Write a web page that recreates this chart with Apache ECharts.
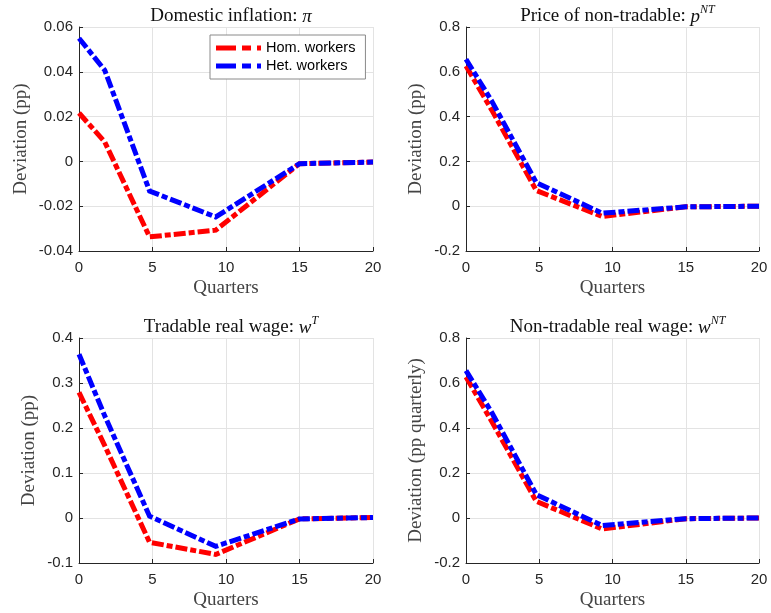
<!DOCTYPE html>
<html>
<head>
<meta charset="utf-8">
<script src="https://cdn.jsdelivr.net/npm/echarts@6/dist/echarts.min.js"></script>
<style>html,body{margin:0;padding:0;background:#fff}#c{width:771px;height:613px}</style>
</head>
<body>
<div id="c"></div>
<script>
// Data
const quarters = [0, 1.75, 4.8, 9.3, 15, 20];
const xTicks = [0, 5, 10, 15, 20];
const seriesNames = ['Hom. workers', 'Het. workers'];

const inflHom = [0.0216, 0.0087, -0.0337, -0.0307, -0.001, -0.0003];
const inflHet = [0.055, 0.0407, -0.0132, -0.0248, -0.001, -0.0003];

const pntHom = [0.626, 0.43, 0.07, -0.046, -0.003, 0];
const pntHet = [0.656, 0.47, 0.105, -0.031, -0.003, 0];

const wtHom = [0.279, 0.161, -0.054, -0.081, -0.002, 0.001];
const wtHet = [0.364, 0.227, 0.004, -0.063, -0.002, 0.001];

const wntHom = [0.627, 0.43, 0.074, -0.049, -0.003, 0];
const wntHet = [0.655, 0.47, 0.104, -0.034, -0.003, 0];

const yRanges = [
  {min: -0.04, max: 0.06, interval: 0.02},
  {min: -0.2, max: 0.8, interval: 0.2},
  {min: -0.1, max: 0.4, interval: 0.1},
  {min: -0.2, max: 0.8, interval: 0.2}
];
const yNames = ['Deviation (pp)', 'Deviation (pp)', 'Deviation (pp)', 'Deviation (pp quarterly)'];
const xName = 'Quarters';
const titles = [
  '{a|Domestic inflation: }{i|π}',
  '{a|Price of non-tradable: }{i|p}{s|NT}',
  '{a|Tradable real wage: }{i|w}{s|T}',
  '{a|Non-tradable real wage: }{i|w}{s|NT}'
];
const panelData = [[inflHom, inflHet], [pntHom, pntHet], [wtHom, wtHet], [wntHom, wntHet]];

const grids = [
  {left: 79, top: 27, width: 294, height: 224},
  {left: 466, top: 27, width: 293, height: 224},
  {left: 79, top: 338, width: 294, height: 225},
  {left: 466, top: 338, width: 293, height: 225}
];

const serif = '"Liberation Serif", "DejaVu Serif", serif';
const sans = '"Liberation Sans", Arial, sans-serif';
const axisCol = '#262626';
const colors = ['#ff0000', '#0000ff'];

const titleRich = {
  a: {fontFamily: serif, fontSize: 19, color: '#111', verticalAlign: 'bottom', lineHeight: 22},
  i: {fontFamily: serif, fontSize: 19, fontStyle: 'italic', color: '#111', verticalAlign: 'bottom', lineHeight: 22},
  s: {fontFamily: serif, fontSize: 12, fontStyle: 'italic', color: '#111', verticalAlign: 'top', lineHeight: 22}
};

const dashIcon = 'path://M0,0H20V5H0Z M26,0H35V5H26Z M41,0H45V5H41Z';

const option = {
  backgroundColor: '#fff',
  animation: false,
  title: grids.map((g, k) => ({
    text: titles[k],
    left: g.left + g.width / 2,
    top: g.top - 28,
    textAlign: 'center',
    textStyle: {rich: titleRich, fontFamily: serif, fontSize: 19, fontWeight: 'normal'}
  })),
  legend: {
    data: seriesNames.map((n, j) => ({name: n, icon: dashIcon, itemStyle: {color: colors[j]}})),
    orient: 'vertical',
    left: 210,
    top: 35,
    padding: [5, 10, 5, 6],
    itemWidth: 45,
    itemHeight: 5,
    itemGap: 2,
    backgroundColor: '#fff',
    borderColor: '#8a8a8a',
    borderWidth: 1,
    borderRadius: 0,
    textStyle: {fontFamily: sans, fontSize: 14.5, color: '#000', lineHeight: 16}
  },
  grid: grids.map(g => Object.assign({containLabel: false}, g)),
  xAxis: grids.map((g, k) => ({
    type: 'value', gridIndex: k, min: 0, max: 20, interval: 5,
    name: xName, nameLocation: 'middle', nameGap: 28,
    nameTextStyle: {fontFamily: serif, fontSize: 19, color: '#444'},
    axisLine: {show: true, onZero: false, lineStyle: {color: axisCol, width: 1}},
    axisTick: {show: true, inside: true, length: 4, lineStyle: {color: axisCol}},
    axisLabel: {fontFamily: sans, fontSize: 15, color: axisCol, margin: 9,
      formatter: v => (xTicks.indexOf(v) >= 0 ? String(v) : '')},
    splitLine: {show: true, lineStyle: {color: '#e3e3e3', width: 1}}
  })),
  yAxis: grids.map((g, k) => ({
    type: 'value', gridIndex: k,
    min: yRanges[k].min, max: yRanges[k].max, interval: yRanges[k].interval,
    name: yNames[k], nameLocation: 'middle', nameGap: k === 0 ? 48 : 40,
    nameTextStyle: {fontFamily: serif, fontSize: 19, color: '#444'},
    axisLine: {show: true, onZero: false, lineStyle: {color: axisCol, width: 1}},
    axisTick: {show: true, inside: true, length: 4, lineStyle: {color: axisCol}},
    axisLabel: {fontFamily: sans, fontSize: 15, color: axisCol, margin: 6,
      formatter: v => String(parseFloat(v.toFixed(4)))},
    splitLine: {show: true, lineStyle: {color: '#e3e3e3', width: 1}}
  })),
  series: []
};

panelData.forEach((pair, k) => {
  pair.forEach((vals, j) => {
    option.series.push({
      type: 'line',
      name: seriesNames[j],
      xAxisIndex: k, yAxisIndex: k,
      data: quarters.map((q, i) => [q, vals[i]]),
      symbol: 'none',
      showSymbol: false,
      silent: true,
      color: colors[j],
      lineStyle: {color: colors[j], width: 5, type: [12, 3, 6, 3], cap: 'butt', join: 'miter'},
      z: 2 + j
    });
  });
});

const chart = echarts.init(document.getElementById('c'), null, {renderer: 'canvas'});
chart.setOption(option);
</script>
</body>
</html>
